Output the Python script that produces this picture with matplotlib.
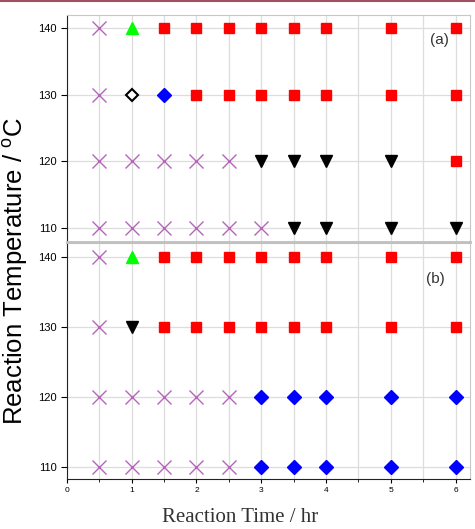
import matplotlib.pyplot as plt
from matplotlib.lines import Line2D

# panel (a)
a_x_cross = [0.5, 0.5, 0.5, 1, 1.5, 2, 2.5, 0.5, 1, 1.5, 2, 2.5, 3]
a_y_cross = [140, 130, 120, 120, 120, 120, 120, 110, 110, 110, 110, 110, 110]
a_x_up = [1]
a_y_up = [140]
a_x_open = [1]
a_y_open = [130]
a_x_dia = [1.5]
a_y_dia = [130]
a_x_sq = [1.5, 2, 2.5, 3, 3.5, 4, 5, 6, 2, 2.5, 3, 3.5, 4, 5, 6, 6]
a_y_sq = [140, 140, 140, 140, 140, 140, 140, 140, 130, 130, 130, 130, 130, 130, 130, 120]
a_x_down = [3, 3.5, 4, 5, 3.5, 4, 5, 6]
a_y_down = [120, 120, 120, 120, 110, 110, 110, 110]

# panel (b)
b_x_cross = [0.5, 0.5, 0.5, 1, 1.5, 2, 2.5, 0.5, 1, 1.5, 2, 2.5]
b_y_cross = [140, 130, 120, 120, 120, 120, 120, 110, 110, 110, 110, 110]
b_x_up = [1]
b_y_up = [140]
b_x_down = [1]
b_y_down = [130]
b_x_sq = [1.5, 2, 2.5, 3, 3.5, 4, 5, 6, 1.5, 2, 2.5, 3, 3.5, 4, 5, 6]
b_y_sq = [140, 140, 140, 140, 140, 140, 140, 140, 130, 130, 130, 130, 130, 130, 130, 130]
b_x_dia = [3, 3.5, 4, 5, 6, 3, 3.5, 4, 5, 6]
b_y_dia = [120, 120, 120, 120, 120, 110, 110, 110, 110, 110]

yticks = [110, 120, 130, 140]
xticks = [0, 1, 2, 3, 4, 5, 6]

plt.rcParams['font.family'] = ['Liberation Sans', 'DejaVu Sans']

fig = plt.figure(figsize=(4.75, 5.29), dpi=100)
ax1 = fig.add_axes([0.141, 0.5425, 0.848, 0.4295])
ax2 = fig.add_axes([0.141, 0.0945, 0.848, 0.446])

cross = dict(ls='none', marker='x', color='#b466b8', ms=10, mew=1.0)
sq = dict(ls='none', marker='s', color='#ff0000', ms=7.5)
up = dict(ls='none', marker='^', color='#00ff00', ms=9)
down = dict(ls='none', marker='v', color='black', ms=9)
dia = dict(ls='none', marker='D', color='#0000ff', ms=7)

ax1.plot(a_x_cross, a_y_cross, **cross)
ax1.plot(a_x_up, a_y_up, **up)
ax1.plot(a_x_open, a_y_open, ls='none', marker='D', mfc='white', mec='black', mew=1.5, ms=6.5)
ax1.plot(a_x_dia, a_y_dia, **dia)
ax1.plot(a_x_sq, a_y_sq, **sq)
ax1.plot(a_x_down, a_y_down, **down)

ax2.plot(b_x_cross, b_y_cross, **cross)
ax2.plot(b_x_up, b_y_up, **up)
ax2.plot(b_x_down, b_y_down, **down)
ax2.plot(b_x_sq, b_y_sq, **sq)
ax2.plot(b_x_dia, b_y_dia, **dia)

for ax, ylim in ((ax1, (107.9, 142)), (ax2, (108.3, 142))):
    ax.set_xlim(0, 6.22)
    ax.set_ylim(*ylim)
    ax.set_yticks(yticks)
    ax.set_xticks(xticks)
    ax.set_xticks([0.5, 1.5, 2.5, 3.5, 4.5, 5.5], minor=True)
    ax.grid(True, which='both', color='#dddddd', lw=0.9)
    ax.set_axisbelow(True)
    ax.tick_params(axis='y', labelsize=8, direction='out', length=4, width=0.8)
    ax.tick_params(axis='y', which='minor', length=0)
    for s in ('top', 'right'):
        ax.spines[s].set_color('#c8c8c8')
    ax.spines['left'].set_color('#222222')

ax1.tick_params(axis='x', which='both', length=0, labelbottom=False)
ax1.spines['bottom'].set_color('#c0c0c0')
ax1.spines['bottom'].set_linewidth(2)
ax2.spines['top'].set_color('#c0c0c0')
ax2.spines['top'].set_linewidth(1.5)
ax2.spines['bottom'].set_color('#222222')
ax2.tick_params(axis='x', labelsize=6, direction='out', length=3, width=0.8, pad=3)
ax2.tick_params(axis='x', which='minor', direction='out', length=2, width=0.6)

ax1.text(0.925, 0.87, '(a)', transform=ax1.transAxes, fontsize=11, color='#333333', ha='center')
ax2.text(0.915, 0.83, '(b)', transform=ax2.transAxes, fontsize=11, color='#333333', ha='center')

fig.text(0.033, 0.487, 'Reaction Temperature / $\\mathregular{^o}$C', rotation=90,
         ha='center', va='center', fontsize=18.5)
fig.text(0.505, 0.022, 'Reaction Time / hr', ha='center', va='center', fontsize=15,
         family=['Liberation Serif', 'DejaVu Serif'], color='#333333')

fig.add_artist(Line2D([0, 1], [0.998, 0.998], transform=fig.transFigure, color='#a05060', lw=1.5))

fig.savefig('out.png', dpi=100)
